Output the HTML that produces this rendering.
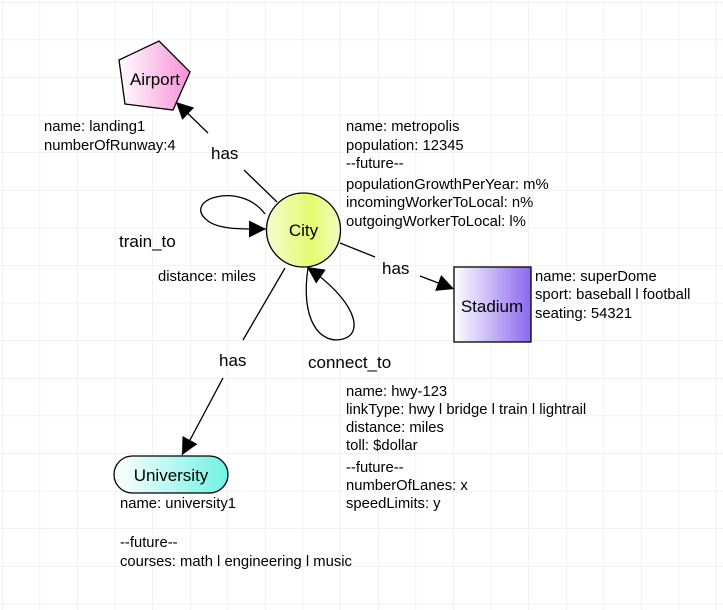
<!DOCTYPE html>
<html><head><meta charset="utf-8"><style>
html,body{margin:0;padding:0;background:#fff;}
svg{display:block;}
text{font-family:"Liberation Sans",sans-serif;fill:#000;}
.a{font-size:14.8px;}
.l{font-size:17px;}
.n{font-size:17px;}
</style></head><body>
<svg width="723" height="610" viewBox="0 0 723 610" xmlns="http://www.w3.org/2000/svg">
<defs>
<pattern id="g" x="2" y="2" width="37.6" height="37.6" patternUnits="userSpaceOnUse">
<path d="M0 0 H37.6 M0 0 V37.6" stroke="#e4e4e4" stroke-width="1" fill="none"/>
</pattern>
<linearGradient id="pk" x1="0" x2="1" y1="0" y2="0"><stop offset="0" stop-color="#fff"/><stop offset="1" stop-color="#f78fd8"/></linearGradient>
<linearGradient id="pu" x1="0" x2="1" y1="0" y2="0"><stop offset="0" stop-color="#fff"/><stop offset="1" stop-color="#8a68ee"/></linearGradient>
<linearGradient id="cy" x1="0" x2="1" y1="0" y2="0"><stop offset="0" stop-color="#fff"/><stop offset="1" stop-color="#6ff3e3"/></linearGradient>
<linearGradient id="ye" x1="0" x2="1" y1="0" y2="0"><stop offset="0" stop-color="#f6fcd0"/><stop offset="0.6" stop-color="#e4fb70"/><stop offset="1" stop-color="#f2fcc0"/></linearGradient>
<marker id="ar" viewBox="0 0 10 10" refX="10" refY="5" markerWidth="17" markerHeight="17" markerUnits="userSpaceOnUse" orient="auto"><path d="M0 0 L10 5 L0 10 z" fill="#000"/></marker>
</defs>
<rect width="723" height="610" fill="url(#g)"/>

<line x1="277" y1="202" x2="244" y2="170" stroke="#000" stroke-width="1.3"/>
<line x1="208" y1="133" x2="176" y2="102" stroke="#000" stroke-width="1.3" marker-end="url(#ar)"/>
<line x1="340" y1="243" x2="375" y2="257" stroke="#000" stroke-width="1.3"/>
<line x1="420" y1="276" x2="454" y2="289" stroke="#000" stroke-width="1.3" marker-end="url(#ar)"/>
<line x1="285" y1="268" x2="243" y2="340" stroke="#000" stroke-width="1.3"/>
<line x1="223" y1="378" x2="182" y2="455" stroke="#000" stroke-width="1.3" marker-end="url(#ar)"/>
<path d="M265 214 C240 180 180 200 208 221 C220 230 245 229 266 229" stroke="#000" stroke-width="1.3" fill="none" marker-end="url(#ar)"/>
<path d="M308 268 C300 320 320 345 343 339 C365 333 355 300 307 267" stroke="#000" stroke-width="1.3" fill="none" marker-end="url(#ar)"/>

<polygon points="159,41 190,72 173,110 125,104 119,60" fill="url(#pk)" stroke="#000" stroke-width="1.3"/>
<text class="n" x="155" y="85" text-anchor="middle">Airport</text>
<circle cx="303.5" cy="230" r="37" fill="url(#ye)" stroke="#000" stroke-width="1.3"/>
<text class="n" x="303.5" y="236" text-anchor="middle">City</text>
<rect x="454" y="267" width="77" height="75" fill="url(#pu)" stroke="#000" stroke-width="1.3"/>
<text class="n" x="492" y="312" text-anchor="middle">Stadium</text>
<rect x="114" y="456" width="114" height="37" rx="18.5" fill="url(#cy)" stroke="#000" stroke-width="1.3"/>
<text class="n" x="171" y="481" text-anchor="middle">University</text>

<text class="l" x="211" y="159">has</text>
<text class="l" x="382" y="274">has</text>
<text class="l" x="219" y="366">has</text>
<text class="l" x="119" y="247">train_to</text>
<text class="l" x="308" y="368">connect_to</text>

<text class="a" x="44" y="131">name: landing1</text>
<text class="a" x="44" y="150">numberOfRunway:4</text>

<text class="a" x="346" y="131">name: metropolis</text>
<text class="a" x="346" y="150">population: 12345</text>
<text class="a" x="346" y="168">--future--</text>
<text class="a" x="346" y="189">populationGrowthPerYear: m%</text>
<text class="a" x="346" y="207">incomingWorkerToLocal: n%</text>
<text class="a" x="346" y="226">outgoingWorkerToLocal: l%</text>

<text class="a" x="158" y="281">distance: miles</text>

<text class="a" x="535" y="281">name: superDome</text>
<text class="a" x="535" y="299">sport: baseball l football</text>
<text class="a" x="535" y="318">seating: 54321</text>

<text class="a" x="346" y="396">name: hwy-123</text>
<text class="a" x="346" y="414">linkType: hwy l bridge l train l lightrail</text>
<text class="a" x="346" y="432">distance: miles</text>
<text class="a" x="346" y="450">toll: $dollar</text>
<text class="a" x="346" y="472">--future--</text>
<text class="a" x="346" y="490">numberOfLanes: x</text>
<text class="a" x="346" y="508">speedLimits: y</text>

<text class="a" x="120" y="508">name: university1</text>
<text class="a" x="120" y="547">--future--</text>
<text class="a" x="120" y="566">courses: math l engineering l music</text>
</svg>
</body></html>
